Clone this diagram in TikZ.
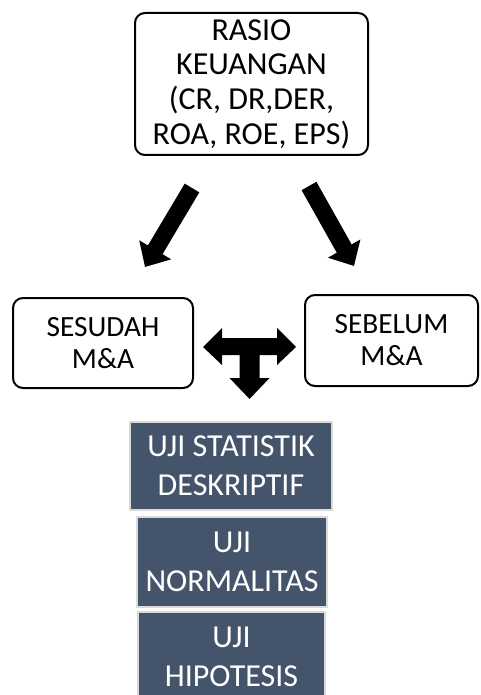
\documentclass[tikz,border=0pt]{standalone}
\usepackage{fontspec}
\setmainfont{Carlito}
\usetikzlibrary{arrows.meta}
\definecolor{slate}{HTML}{44546A}
\definecolor{rim}{HTML}{DADADA}

\begin{document}
\begin{tikzpicture}[x=0.75pt,y=-0.75pt,>={Triangle[length=15pt,width=27pt]},
    kotak/.style={draw,line width=1.5pt,rounded corners=7.5pt,align=center,inner sep=0pt},
    uji/.style={fill=slate,draw=rim,line width=1.5pt,text=white,align=center,inner sep=0pt,
        font=\fontsize{24pt}{29pt}\selectfont},
    panah/.style={line width=12.75pt,->}]
        \useasboundingbox (0,0) rectangle (480,695);
        \node[kotak,minimum width=174.75pt,minimum height=106.5pt,
            font=\fontsize{24pt}{26pt}\selectfont] (rasio) at (251.5,84)
            {RASIO\\KEUANGAN\\(CR, DR,DER,\\ROA, ROE, EPS)};
        \node[kotak,minimum width=135pt,minimum height=67.5pt,
            font=\fontsize{22pt}{24pt}\selectfont] (sesudah) at (103,343) {SESUDAH\\M\&A};
        \node[kotak,minimum width=129.75pt,minimum height=68.25pt,
            font=\fontsize{22pt}{24pt}\selectfont] (sebelum) at (391.5,340.5) {SEBELUM\\M\&A};
        \coordinate (kiri) at (192,188);
        \coordinate (kiriujung) at (145,267);
        \coordinate (kanan) at (309,186);
        \coordinate (kananujung) at (354,266);
        \draw[panah] (kiri)--(kiriujung);
        \draw[panah] (kanan)--(kananujung);
        % panah bentuk T
        \fill (203,347)--(222,328)--(222,338)--(277,338)--(277,328)--(296,347)
            --(277,365)--(277,355)--(259.5,355)--(259.5,378)--(269.5,378)--(249.5,399)
            --(229.5,378)--(239.5,378)--(239.5,355)--(222,355)--(222,365)--cycle;
        \node[uji,minimum width=151.5pt,minimum height=66pt] (deskriptif) at (231,466)
            {UJI STATISTIK\\DESKRIPTIF};
        \node[uji,minimum width=142.5pt,minimum height=67.5pt] (normalitas) at (232,562)
            {UJI\\NORMALITAS};
        \node[uji,minimum width=140.25pt,minimum height=67.5pt] (hipotesis) at (231.5,657)
            {UJI\\HIPOTESIS};
    \end{tikzpicture}
\end{document}
